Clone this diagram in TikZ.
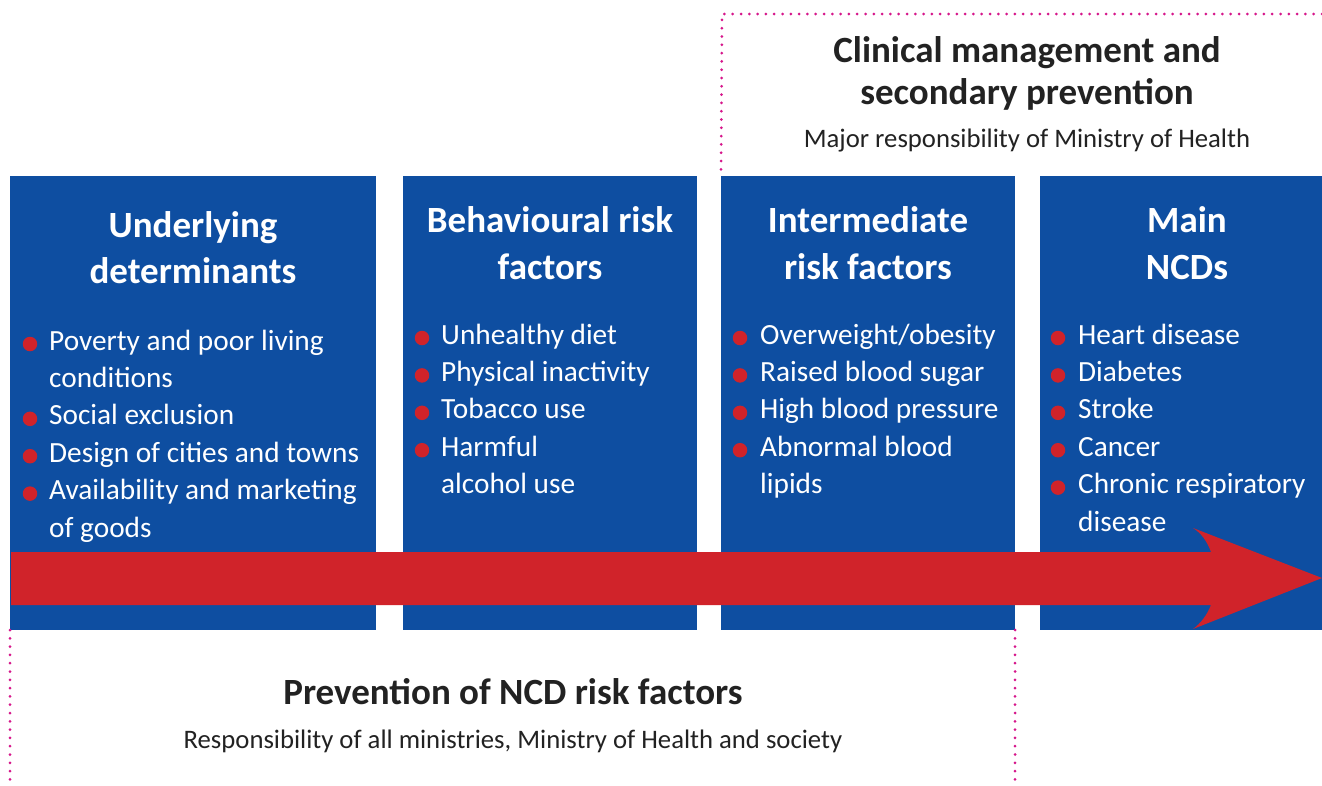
\documentclass[tikz,border=0pt]{standalone}
\usepackage{fontspec}
\setmainfont{Carlito}
\definecolor{ncdblue}{HTML}{0E4EA1}
\definecolor{ncdred}{HTML}{D0232A}
\definecolor{ncdmag}{HTML}{D6168B}
\definecolor{ncdtext}{HTML}{222222}
\begin{document}
\begin{tikzpicture}[x=1pt,y=-1pt,
  box/.style={fill=ncdblue, draw=none, inner sep=0pt, outer sep=0pt, anchor=north west},
  title/.style={text=white, font=\fontsize{37}{42}\selectfont\bfseries, anchor=base, inner sep=0pt},
  item/.style={text=white, font=\fontsize{29.3}{37}\selectfont, anchor=base west, inner sep=0pt},
  bul/.style={circle, fill=ncdred, minimum size=14.5pt, inner sep=0pt},
  border/.style={draw=ncdmag, line width=3pt, line cap=round, dash pattern=on 0pt off 8.3pt},
  head/.style={text=ncdtext, font=\fontsize{37}{42}\selectfont\bfseries, anchor=base, inner sep=0pt},
  sub/.style={text=ncdtext, font=\fontsize{26.7}{32}\selectfont, anchor=base, inner sep=0pt}]
\useasboundingbox (0,0) rectangle (1322,785);
\fill[white] (0,0) rectangle (1322,785);

% boxes
\node[box, minimum width=366pt, minimum height=454pt] (b1) at (10,176) {};
\node[box, minimum width=294pt, minimum height=454pt] (b2) at (403,176) {};
\node[box, minimum width=294pt, minimum height=454pt] (b3) at (721,176) {};
\node[box, minimum width=282pt, minimum height=454pt] (b4) at (1040,176) {};

% dotted borders
\coordinate (tl) at (722,14);
\coordinate (tr) at (1322,14);
\coordinate (bl) at (10,782);
\coordinate (br) at (1015,782);
\draw[border] (tr) -- (tl) -- (b3.north west);
\draw[border] (b1.south west) -- (bl);
\draw[border] (b3.south east) -- (br);

% titles
\node[title] (t1a) at (193,237) {Underlying};
\node[title] (t1b) at (193,283) {determinants};
\node[title] (t2a) at (550,232) {Behavioural risk};
\node[title] (t2b) at (550,279) {factors};
\node[title] (t3a) at (868,232) {Intermediate};
\node[title] (t3b) at (868,279) {risk factors};
\node[title] (t4a) at (1187,232) {Main};
\node[title] (t4b) at (1187,279) {NCDs};

% box 1 items
\node[item] (i11) at (49,350) {Poverty and poor living};
\node[item] (i11b) at (49,387.4) {conditions};
\node[item] (i12) at (49,424.8) {Social exclusion};
\node[item] (i13) at (49,462.2) {Design of cities and towns};
\node[item] (i14) at (49,499.6) {Availability and marketing};
\node[item] (i14b) at (49,537) {of goods};
\foreach \n/\y in {a/350,b/424.8,c/462.2,d/499.6}
  \node[bul] (d1\n) at (30,\y-6) {};

% box 2 items
\node[item] (i21) at (441,344) {Unhealthy diet};
\node[item] (i22) at (441,381.4) {Physical inactivity};
\node[item] (i23) at (441,418.8) {Tobacco use};
\node[item] (i24) at (441,456.2) {Harmful};
\node[item] (i24b) at (441,493.6) {alcohol use};
\foreach \n/\y in {a/344,b/381.4,c/418.8,d/456.2}
  \node[bul] (d2\n) at (422,\y-6) {};

% box 3 items
\node[item] (i31) at (760,344) {Overweight/obesity};
\node[item] (i32) at (760,381.4) {Raised blood sugar};
\node[item] (i33) at (760,418.8) {High blood pressure};
\node[item] (i34) at (760,456.2) {Abnormal blood};
\node[item] (i34b) at (760,493.6) {lipids};
\foreach \n/\y in {a/344,b/381.4,c/418.8,d/456.2}
  \node[bul] (d3\n) at (740,\y-6) {};

% box 4 items
\node[item] (i41) at (1078,344) {Heart disease};
\node[item] (i42) at (1078,381.4) {Diabetes};
\node[item] (i43) at (1078,418.8) {Stroke};
\node[item] (i44) at (1078,456.2) {Cancer};
\node[item] (i45) at (1078,493.6) {Chronic respiratory};
\node[item] (i45b) at (1078,531) {disease};
\foreach \n/\y in {a/344,b/381.4,c/418.8,d/456.2,e/493.6}
  \node[bul] (d4\n) at (1058,\y-6) {};

% red arrow
\fill[ncdred] (11,552) -- (1211,552) .. controls (1207,541) and (1201,533) .. (1193,528)
  -- (1322,578) -- (1193,629) .. controls (1201,623) and (1207,615) .. (1211,605)
  -- (11,605) -- cycle;

% top heading
\node[head] (h1a) at (1027,62) {Clinical management and};
\node[head] (h1b) at (1027,104) {secondary prevention};
\node[sub] (s1) at (1027,147) {Major responsibility of Ministry of Health};

% bottom heading
\node[head] (h2) at (513,704) {Prevention of NCD risk factors};
\node[sub] (s2) at (513,748) {Responsibility of all ministries, Ministry of Health and society};
\end{tikzpicture}
\end{document}
